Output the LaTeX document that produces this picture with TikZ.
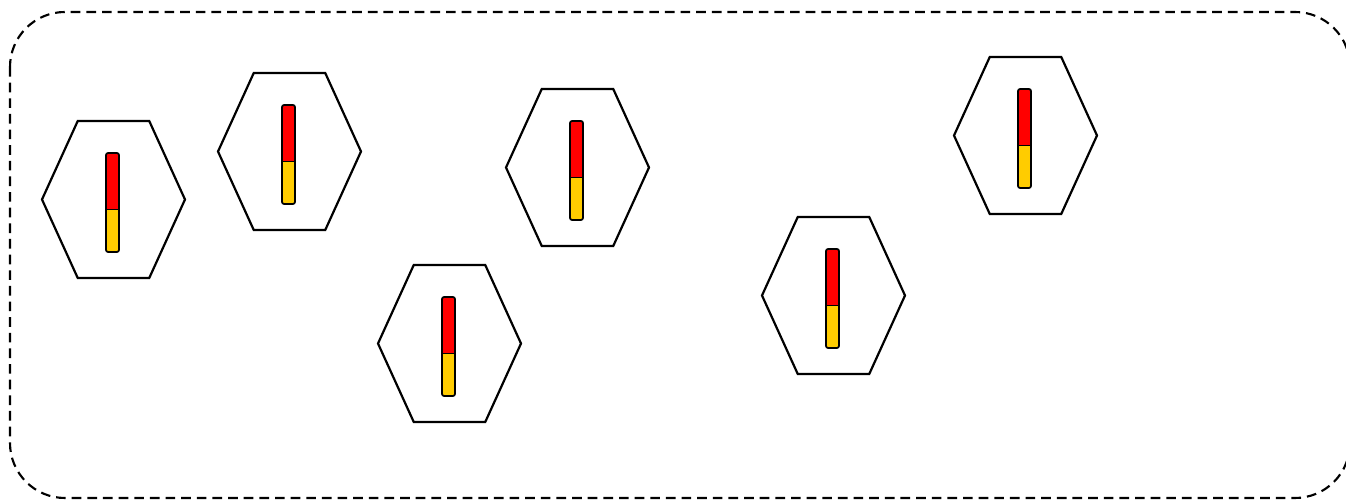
\documentclass[tikz,border=0pt]{standalone}
\usepackage{tikz}
\usetikzlibrary{calc}
\definecolor{BarRed}{HTML}{FF0000}
\definecolor{BarYellow}{HTML}{FFCC00}

\begin{document}
\begin{tikzpicture}[
  x=0.02cm, y=-0.02cm,
  frame/.style={draw=black, line width=1.2pt, dash pattern=on 5.5pt off 3.4pt, rounded corners=1.1cm},
  hexline/.style={draw=black, line width=1.25pt, line join=miter},
  barline/.style={draw=black, line width=1pt},
]
  \useasboundingbox (0,0) rectangle (1346,502);
  % dashed enclosure, right side runs off the page
  \draw[frame] (10,12) rectangle (1350,498);

  % cells: hexagon with a red/yellow level bar
  \foreach \cx/\cy [count=\i] in {113.5/199.5, 289.5/151.5, 449.5/343.5,
                                  577.5/167.5, 833.5/295.5, 1025.5/135.5} {
    \coordinate (cell\i) at (\cx,\cy);
    \draw[hexline] ($(cell\i)+(-71.5,0)$) -- ($(cell\i)+(-35.75,-78.5)$)
      -- ($(cell\i)+(35.75,-78.5)$) -- ($(cell\i)+(71.5,0)$)
      -- ($(cell\i)+(35.75,78.5)$) -- ($(cell\i)+(-35.75,78.5)$) -- cycle;
    \begin{scope}
      \path[clip, rounded corners=1.2pt] ($(cell\i)+(-7.5,-46.5)$) rectangle ($(cell\i)+(5.5,52.5)$);
      \fill[BarRed] ($(cell\i)+(-7.5,-46.5)$) rectangle ($(cell\i)+(5.5,10)$);
      \fill[BarYellow] ($(cell\i)+(-7.5,10)$) rectangle ($(cell\i)+(5.5,52.5)$);
    \end{scope}
    \draw[barline] ($(cell\i)+(-7.5,10)$) -- ($(cell\i)+(5.5,10)$);
    \draw[barline, rounded corners=1.2pt] ($(cell\i)+(-7.5,-46.5)$) rectangle ($(cell\i)+(5.5,52.5)$);
  }
\end{tikzpicture}
\end{document}
